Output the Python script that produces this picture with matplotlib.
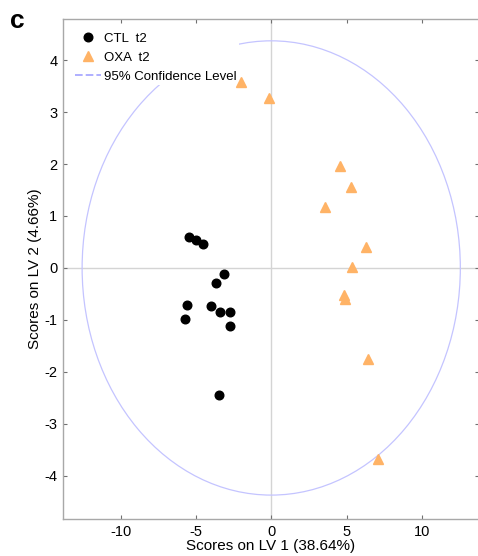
import matplotlib
matplotlib.use("Agg")
import matplotlib.pyplot as plt
from matplotlib.patches import Ellipse

plt.rcParams['font.family'] = ['Liberation Sans', 'DejaVu Sans']
plt.rcParams['axes.unicode_minus'] = False

# PLS-DA scores, LV1 vs LV2
ctl_lv1 = [-5.43, -4.99, -4.50, -3.12, -3.68, -5.57, -5.76, -4.03, -3.41, -2.73, -2.73, -3.50]
ctl_lv2 = [0.60, 0.53, 0.47, -0.12, -0.29, -0.71, -0.99, -0.74, -0.85, -0.85, -1.12, -2.45]

oxa_lv1 = [-2.00, -0.13, 4.57, 5.30, 3.55, 6.27, 5.36, 4.81, 4.90, 6.40, 7.07]
oxa_lv2 = [3.58, 3.27, 1.96, 1.56, 1.17, 0.40, 0.02, -0.52, -0.59, -1.75, -3.67]

# 95% confidence ellipse semi-axes
conf_a = 12.56
conf_b = 4.37

xticks = [-10, -5, 0, 5, 10]
yticks = [-4, -3, -2, -1, 0, 1, 2, 3, 4]

fig = plt.figure(figsize=(4.78, 5.56), dpi=100)
ax = fig.add_axes([63 / 478, 1 - 519 / 556, 416 / 478, 500 / 556])

ax.axvline(0, color='#d4d4d4', lw=1, zorder=1)
ax.axhline(0, color='#d4d4d4', lw=1, zorder=1)

ax.add_patch(Ellipse((0, 0), 2 * conf_a, 2 * conf_b, fill=False,
                     edgecolor='#c4c4ff', lw=0.9, zorder=2))

ax.plot(ctl_lv1, ctl_lv2, 'o', color='black', ms=6.2, ls='none',
        label='CTL  t2', zorder=3)
ax.plot(oxa_lv1, oxa_lv2, '^', color='#ffb366', ms=6.5, ls='none',
        label='OXA  t2', zorder=3)
ax.plot([], [], ls=(0, (5, 2)), color='#9a9aff', lw=1.1,
        label='95% Confidence Level')

ax.set_xlim(-13.83, 13.8)
ax.set_ylim(-4.83, 4.79)
ax.set_xticks(xticks)
ax.set_yticks(yticks)
ax.tick_params(direction='in', length=3, width=0.8, color='#707070',
               top=True, right=True, labelsize=10.5, pad=4)

for s in ax.spines.values():
    s.set_color('#a8a8a8')
    s.set_linewidth(1.0)

ax.set_xlabel('Scores on LV 1 (38.64%)', fontsize=11, labelpad=0)
ax.set_ylabel('Scores on LV 2 (4.66%)', fontsize=11, labelpad=2)

# white legend box hides the ellipse behind it, but sits under the markers
leg = ax.legend(loc='upper left', bbox_to_anchor=(0.022, 0.978),
                fontsize=9.5, frameon=True, fancybox=False,
                handlelength=2.0, handletextpad=0.2, labelspacing=0.5,
                borderpad=0.2, borderaxespad=0)
leg.get_frame().set_facecolor('white')
leg.get_frame().set_edgecolor('none')
leg.get_frame().set_alpha(1)
leg.set_zorder(2.5)

fig.text(10 / 478, 1 - 28 / 556, 'c', fontsize=19, fontweight='bold')

fig.savefig('out.png', dpi=100)
